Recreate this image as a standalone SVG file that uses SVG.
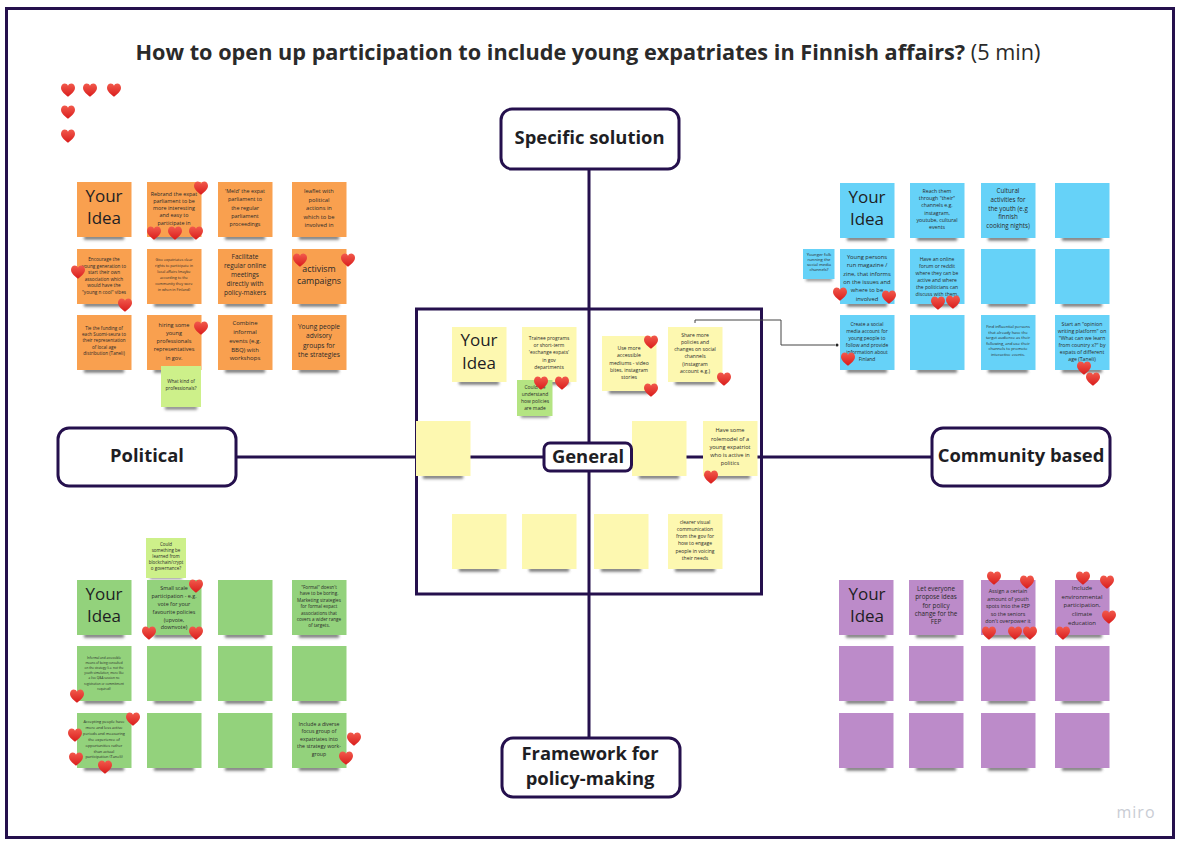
<svg xmlns="http://www.w3.org/2000/svg" xmlns:xlink="http://www.w3.org/1999/xlink" width="1182" height="845" viewBox="0 0 1182 845">
<style>
text{font-family:"Open Sans","Noto Sans","Liberation Sans",sans-serif;fill:#2a2a2a;text-anchor:middle}
.o{fill:#f9a04f}.b{fill:#66d2f8}.y{fill:#fdf8b0}.g{fill:#93d27c}.p{fill:#bc8bc9}.l{fill:#cdf08a}
.box{fill:#fff;stroke:#25104d;stroke-width:3}
.wire{stroke:#25104d;stroke-width:3;fill:none}
.lab{font-weight:700;font-size:18.4px;fill:#1e1e24}
.big{font-size:17px;fill:#1e1e24}
</style>
<defs>
<filter id="bl" x="-30%" y="-200%" width="160%" height="500%"><feGaussianBlur stdDeviation="1.4"/></filter>
<linearGradient id="hg" x1="0" y1="0" x2="0" y2="1"><stop offset="0" stop-color="#f25a4c"/><stop offset="1" stop-color="#d91c1c"/></linearGradient>
<path id="heart" d="M0 6.800C-2.500 4.600-7 1.800-7-2.300C-7-5-5-6.500-3.300-6.500C-1.800-6.500-.6-5.600 0-4.300C.6-5.600 1.800-6.500 3.300-6.500C5-6.500 7-5 7-2.300C7 1.800 2.500 4.600 0 6.800Z" fill="url(#hg)"/>
<rect id="sh" x="7" y="54" width="40" height="3.500" fill="#444" opacity=".8" filter="url(#bl)"/>
<rect id="st" width="54.500" height="55"/>
</defs>
<rect width="1182" height="845" fill="#fff"/>
<rect x="6.500" y="8.500" width="1167" height="829" fill="#fff" stroke="#25104d" stroke-width="3"/>
<text id="title" x="588" y="60" fill="#1e1e24" style="font-size:21.7px"><tspan font-weight="700">How to open up participation to include young expatriates in Finnish affairs?</tspan> (5 min)</text>

<g id="connectors">
<rect x="416.500" y="309" width="345" height="285" fill="none" stroke="#25104d" stroke-width="3"/>
<path class="wire" d="M589 169V738M236 457H932"/>
<path d="M695 323V320H781V345H835" fill="none" stroke="#444" stroke-width="1"/>
<circle cx="837" cy="345" r="1.500" fill="#222"/>
</g>

<g id="node-specific"><rect class="box" x="501" y="109" width="178" height="60" rx="11"/><text class="lab" x="589.500" y="144">Specific solution</text></g>
<g id="node-political"><rect class="box" x="58" y="428" width="178" height="58" rx="11"/><text class="lab" x="147" y="462">Political</text></g>
<g id="node-community"><rect class="box" x="932" y="428" width="178" height="58" rx="11"/><text class="lab" x="1021" y="462">Community based</text></g>
<g id="node-framework"><rect class="box" x="502" y="738" width="178" height="59" rx="11"/><text class="lab" x="590" y="760">Framework for</text><text class="lab" x="590" y="785">policy-making</text></g>

<g id="orange-1" transform="translate(77,182)"><use href="#sh"/><use href="#st" class="o"/><text class="big" x="27" y="20">Your</text><text class="big" x="27" y="42">Idea</text></g>
<g id="orange-2" transform="translate(147,182)"><use href="#sh"/><use href="#st" class="o"/><text style="font-size:5.400px"><tspan x="27" y="14">Rebrand the expat</tspan><tspan x="27" dy="7">parliament to be</tspan><tspan x="27" dy="7">more interesting</tspan><tspan x="27" dy="7">and easy to</tspan><tspan x="27" dy="8">participate in</tspan></text></g>
<g id="orange-3" transform="translate(218,182)"><use href="#sh"/><use href="#st" class="o"/><text style="font-size:5.400px"><tspan x="27" y="11">'Meld' the expat</tspan><tspan x="27" dy="8.300">parliament to</tspan><tspan x="27" dy="8.300">the regular</tspan><tspan x="27" dy="8.300">parliament</tspan><tspan x="27" dy="8.300">proceedings</tspan></text></g>
<g id="orange-4" transform="translate(292,182)"><use href="#sh"/><use href="#st" class="o"/><text style="font-size:5.800px"><tspan x="27" y="11">leaflet with</tspan><tspan x="27" dy="8.500">political</tspan><tspan x="27" dy="8.500">actions in</tspan><tspan x="27" dy="8.500">which to be</tspan><tspan x="27" dy="8.500">involved in</tspan></text></g>
<g id="orange-5" transform="translate(77,249)"><use href="#sh"/><use href="#st" class="o"/><text style="font-size:4.700px"><tspan x="27" y="12">Encourage the</tspan><tspan x="27" dy="6.600">young generation to</tspan><tspan x="27" dy="6.600">start their own</tspan><tspan x="27" dy="6.600">association which</tspan><tspan x="27" dy="6.600">would have the</tspan><tspan x="27" dy="6.600">"young n cool" vibes</tspan></text></g>
<g id="orange-6" transform="translate(147,249)"><use href="#sh"/><use href="#st" class="o"/><text style="font-size:3.700px"><tspan x="27" y="12">Give expatriates clear</tspan><tspan x="27" dy="6">rights to participate in</tspan><tspan x="27" dy="6">local affairs (maybe</tspan><tspan x="27" dy="6">according to the</tspan><tspan x="27" dy="6">community they were</tspan><tspan x="27" dy="6">in when in Finland)</tspan></text></g>
<g id="orange-7" transform="translate(218,249)"><use href="#sh"/><use href="#st" class="o"/><text style="font-size:6.500px"><tspan x="27" y="10">Facilitate</tspan><tspan x="27" dy="9">regular online</tspan><tspan x="27" dy="9">meetings</tspan><tspan x="27" dy="8.500">directly with</tspan><tspan x="27" dy="9">policy-makers</tspan></text></g>
<g id="orange-8" transform="translate(292,249)"><use href="#sh"/><use href="#st" class="o"/><text style="font-size:8.800px"><tspan x="27" y="23">activism</tspan><tspan x="27" dy="12.300">campaigns</tspan></text></g>
<g id="orange-9" transform="translate(77,315)"><use href="#sh"/><use href="#st" class="o"/><text style="font-size:4.600px"><tspan x="27" y="15">Tie the funding of</tspan><tspan x="27" dy="6.200">each Suomi-seura to</tspan><tspan x="27" dy="6.200">their representation</tspan><tspan x="27" dy="6.200">of local age</tspan><tspan x="27" dy="6.200">distribution (Taneli)</tspan></text></g>
<g id="orange-10" transform="translate(147,315)"><use href="#sh"/><use href="#st" class="o"/><text style="font-size:5.600px"><tspan x="27" y="12">hiring some</tspan><tspan x="27" dy="8">young</tspan><tspan x="27" dy="8">professionals</tspan><tspan x="27" dy="8">representatives</tspan><tspan x="27" dy="8.500">in gov.</tspan></text></g>
<g id="orange-11" transform="translate(218,315)"><use href="#sh"/><use href="#st" class="o"/><text style="font-size:6px"><tspan x="27" y="10">Combine</tspan><tspan x="27" dy="9">informal</tspan><tspan x="27" dy="9">events (e.g.</tspan><tspan x="27" dy="8.500">BBQ) with</tspan><tspan x="27" dy="8.500">workshops</tspan></text></g>
<g id="orange-12" transform="translate(292,315)"><use href="#sh"/><use href="#st" class="o"/><text style="font-size:6.600px"><tspan x="27" y="14">Young people</tspan><tspan x="27" dy="9.300">advisory</tspan><tspan x="27" dy="9.300">groups for</tspan><tspan x="27" dy="9.300">the strategies</tspan></text></g>
<g id="lime-1" transform="translate(161,366)"><rect x="4" y="40" width="32" height="3.500" fill="#444" opacity=".7" filter="url(#bl)"/><rect class="l" width="40" height="41"/><text style="font-size:4.700px"><tspan x="20" y="17">What kind of</tspan><tspan x="20" dy="7">professionals?</tspan></text></g>

<g id="blue-1" transform="translate(840,183)"><use href="#sh"/><use href="#st" class="b"/><text class="big" x="27" y="20">Your</text><text class="big" x="27" y="42">Idea</text></g>
<g id="blue-2" transform="translate(910,183)"><use href="#sh"/><use href="#st" class="b"/><text style="font-size:5.200px"><tspan x="27" y="10">Reach them</tspan><tspan x="27" dy="7">through "their"</tspan><tspan x="27" dy="7">channels e.g.</tspan><tspan x="27" dy="8">instagram,</tspan><tspan x="27" dy="7">youtube, cultural</tspan><tspan x="27" dy="7">events</tspan></text></g>
<g id="blue-3" transform="translate(981,183)"><use href="#sh"/><use href="#st" class="b"/><text style="font-size:6.200px"><tspan x="27" y="10">Cultural</tspan><tspan x="27" dy="9">activities for</tspan><tspan x="27" dy="8.500">the youth (e.g</tspan><tspan x="27" dy="8.500">finnish</tspan><tspan x="27" dy="9">cooking nights)</tspan></text></g>
<g id="blue-4" transform="translate(1055,183)"><use href="#sh"/><use href="#st" class="b"/></g>
<g id="blue-small" transform="translate(803,249)"><rect x="3" y="29" width="26" height="3" fill="#444" opacity=".65" filter="url(#bl)"/><rect class="b" width="31.500" height="30"/><text style="font-size:4.200px"><tspan x="16" y="6.500">Younger folk</tspan><tspan x="16" dy="5.300">running the</tspan><tspan x="16" dy="5.300">social media</tspan><tspan x="16" dy="5.300">channels?</tspan></text></g>
<g id="blue-5" transform="translate(840,249)"><use href="#sh"/><use href="#st" class="b"/><text style="font-size:5.800px"><tspan x="27" y="10">Young persons</tspan><tspan x="27" dy="8.300">run magazine /</tspan><tspan x="27" dy="8.300">zine, that informs</tspan><tspan x="27" dy="8.300">on the issues and</tspan><tspan x="27" dy="8.300">where to be</tspan><tspan x="27" dy="8.300">involved</tspan></text></g>
<g id="blue-6" transform="translate(910,249)"><use href="#sh"/><use href="#st" class="b"/><text style="font-size:5px"><tspan x="27" y="12">Have an online</tspan><tspan x="27" dy="7">forum or reddit</tspan><tspan x="27" dy="7">where they can be</tspan><tspan x="27" dy="7">active and where</tspan><tspan x="27" dy="7">the politicians can</tspan><tspan x="27" dy="7">discuss with them.</tspan></text></g>
<g id="blue-7" transform="translate(981,249)"><use href="#sh"/><use href="#st" class="b"/></g>
<g id="blue-8" transform="translate(1055,249)"><use href="#sh"/><use href="#st" class="b"/></g>
<g id="blue-9" transform="translate(840,315)"><use href="#sh"/><use href="#st" class="b"/><text style="font-size:4.900px"><tspan x="27" y="11">Create a social</tspan><tspan x="27" dy="7">media account for</tspan><tspan x="27" dy="7">young people to</tspan><tspan x="27" dy="7">follow and provide</tspan><tspan x="27" dy="7">information about</tspan><tspan x="27" dy="7">Finland</tspan></text></g>
<g id="blue-10" transform="translate(910,315)"><use href="#sh"/><use href="#st" class="b"/></g>
<g id="blue-11" transform="translate(981,315)"><use href="#sh"/><use href="#st" class="b"/><text style="font-size:4px"><tspan x="27" y="13">Find influential persons</tspan><tspan x="27" dy="5.600">that already have the</tspan><tspan x="27" dy="5.600">target audience as their</tspan><tspan x="27" dy="5.600">following, and use their</tspan><tspan x="27" dy="5.600">channels to promote</tspan><tspan x="27" dy="5.600">interactive events.</tspan></text></g>
<g id="blue-12" transform="translate(1055,315)"><use href="#sh"/><use href="#st" class="b"/><text style="font-size:5.200px"><tspan x="27" y="11">Start an "opinion</tspan><tspan x="27" dy="7">writing platform" on</tspan><tspan x="27" dy="7">"What can we learn</tspan><tspan x="27" dy="7">from country x?" by</tspan><tspan x="27" dy="7">expats of different</tspan><tspan x="27" dy="7">age (Taneli)</tspan></text></g>

<g id="yellow-1" transform="translate(452,327)"><use href="#sh"/><use href="#st" class="y"/><text class="big" x="27" y="19">Your</text><text class="big" x="27" y="42">Idea</text></g>
<g id="yellow-2" transform="translate(522,327)"><use href="#sh"/><use href="#st" class="y"/><text style="font-size:4.900px"><tspan x="27" y="13">Trainee programs</tspan><tspan x="27" dy="7.200">or short-term</tspan><tspan x="27" dy="7.200">'exchange expats'</tspan><tspan x="27" dy="7.200">in gov</tspan><tspan x="27" dy="7.200">departments</tspan></text></g>
<g id="yellow-3" transform="translate(602,336)"><use href="#sh"/><use href="#st" class="y"/><text style="font-size:5.100px"><tspan x="27" y="14">Use more</tspan><tspan x="27" dy="7.300">accessible</tspan><tspan x="27" dy="7.300">mediums - video</tspan><tspan x="27" dy="7.300">bites, instagram</tspan><tspan x="27" dy="7.300">stories</tspan></text></g>
<g id="yellow-4" transform="translate(668,327)"><use href="#sh"/><use href="#st" class="y"/><text style="font-size:5.100px"><tspan x="27" y="10">Share more</tspan><tspan x="27" dy="7">policies and</tspan><tspan x="27" dy="7">changes on social</tspan><tspan x="27" dy="7">channels</tspan><tspan x="27" dy="8">(instagram</tspan><tspan x="27" dy="7">account e.g.)</tspan></text></g>
<g id="yellow-5" transform="translate(416,421)"><use href="#sh"/><use href="#st" class="y"/></g>
<g id="yellow-6" transform="translate(632,421)"><use href="#sh"/><use href="#st" class="y"/></g>
<g id="yellow-7" transform="translate(703,421)"><use href="#sh"/><use href="#st" class="y"/><text style="font-size:5.600px"><tspan x="27" y="11">Have some</tspan><tspan x="27" dy="8.500">rolemodel of a</tspan><tspan x="27" dy="8">young expatriot</tspan><tspan x="27" dy="8">who is active in</tspan><tspan x="27" dy="8">politics</tspan></text></g>
<g id="yellow-8" transform="translate(452,514)"><use href="#sh"/><use href="#st" class="y"/></g>
<g id="yellow-9" transform="translate(522,514)"><use href="#sh"/><use href="#st" class="y"/></g>
<g id="yellow-10" transform="translate(594,514)"><use href="#sh"/><use href="#st" class="y"/></g>
<g id="yellow-11" transform="translate(668,514)"><use href="#sh"/><use href="#st" class="y"/><text style="font-size:5px"><tspan x="27" y="10">clearer visual</tspan><tspan x="27" dy="7.200">communication</tspan><tspan x="27" dy="7">from the gov for</tspan><tspan x="27" dy="7">how to engage</tspan><tspan x="27" dy="7.400">people in voicing</tspan><tspan x="27" dy="7">their needs</tspan></text></g>
<g id="lime-2" transform="translate(517,380)"><rect x="4" y="34" width="28" height="3.500" fill="#444" opacity=".7" filter="url(#bl)"/><rect width="35.500" height="36" fill="#b4e482"/><text style="font-size:4.900px"><tspan x="18" y="8.500">Could we</tspan><tspan x="18" dy="7">understand</tspan><tspan x="18" dy="7">how policies</tspan><tspan x="18" dy="7">are made</tspan></text></g>

<g id="node-general"><rect class="box" x="544" y="443" width="87.500" height="28" rx="6"/><text class="lab" x="588" y="463">General</text></g>

<g id="lime-3" transform="translate(146,538)"><rect x="4" y="38" width="32" height="3" fill="#444" opacity=".65" filter="url(#bl)"/><rect class="l" width="40" height="40"/><text style="font-size:4.500px"><tspan x="20" y="8">Could</tspan><tspan x="20" dy="6">something be</tspan><tspan x="20" dy="6">learned from</tspan><tspan x="20" dy="6">blockchain/crypt</tspan><tspan x="20" dy="6">o governance?</tspan></text></g>
<g id="green-1" transform="translate(77,580)"><use href="#sh"/><use href="#st" class="g"/><text class="big" x="27" y="20">Your</text><text class="big" x="27" y="42">Idea</text></g>
<g id="green-2" transform="translate(147,580)"><use href="#sh"/><use href="#st" class="g"/><text style="font-size:5.400px"><tspan x="27" y="10">Small scale</tspan><tspan x="27" dy="8">participation - e.g.</tspan><tspan x="27" dy="8">vote for your</tspan><tspan x="27" dy="8">favourite policies</tspan><tspan x="27" dy="7.500">(upvote,</tspan><tspan x="27" dy="7.500">downvote)</tspan></text></g>
<g id="green-3" transform="translate(218,580)"><use href="#sh"/><use href="#st" class="g"/></g>
<g id="green-4" transform="translate(292,580)"><use href="#sh"/><use href="#st" class="g"/><text style="font-size:4.600px"><tspan x="27" y="9">"Formal" doesn't</tspan><tspan x="27" dy="6.400">have to be boring.</tspan><tspan x="27" dy="6.400">Marketing strategies</tspan><tspan x="27" dy="6.400">for formal expact</tspan><tspan x="27" dy="6.400">associations that</tspan><tspan x="27" dy="6.400">covers a wider range</tspan><tspan x="27" dy="6.400">of targets.</tspan></text></g>
<g id="green-5" transform="translate(77,646)"><use href="#sh"/><use href="#st" class="g"/><text style="font-size:3.100px"><tspan x="27" y="13">Informal and accessible</tspan><tspan x="27" dy="5.100">means of being consulted</tspan><tspan x="27" dy="5.100">on the strategy (i.e. not the</tspan><tspan x="27" dy="5.100">youth simulation, more like</tspan><tspan x="27" dy="5.100">a live Q&amp;A session no</tspan><tspan x="27" dy="5.100">registration or commitment</tspan><tspan x="27" dy="5.100">required)</tspan></text></g>
<g id="green-6" transform="translate(147,646)"><use href="#sh"/><use href="#st" class="g"/></g>
<g id="green-7" transform="translate(218,646)"><use href="#sh"/><use href="#st" class="g"/></g>
<g id="green-8" transform="translate(292,646)"><use href="#sh"/><use href="#st" class="g"/></g>
<g id="green-9" transform="translate(77,713)"><use href="#sh"/><use href="#st" class="g"/><text style="font-size:3.900px"><tspan x="27" y="10">Accepting people have</tspan><tspan x="27" dy="5.900">more and less active</tspan><tspan x="27" dy="5.900">periods and measuring</tspan><tspan x="27" dy="5.900">the experience of</tspan><tspan x="27" dy="5.900">opportunities rather</tspan><tspan x="27" dy="5.900">than actual</tspan><tspan x="27" dy="5.900">participation (Taneli)</tspan></text></g>
<g id="green-10" transform="translate(147,713)"><use href="#sh"/><use href="#st" class="g"/></g>
<g id="green-11" transform="translate(218,713)"><use href="#sh"/><use href="#st" class="g"/></g>
<g id="green-12" transform="translate(292,713)"><use href="#sh"/><use href="#st" class="g"/><text style="font-size:5.200px"><tspan x="27" y="13">Include a diverse</tspan><tspan x="27" dy="7.400">focus group of</tspan><tspan x="27" dy="7.400">expatriates into</tspan><tspan x="27" dy="7.400">the strategy work-</tspan><tspan x="27" dy="7.400">group</tspan></text></g>

<g id="purple-1" transform="translate(839,580)"><use href="#sh"/><use href="#st" class="p"/><text class="big" x="28" y="20">Your</text><text class="big" x="28" y="42">Idea</text></g>
<g id="purple-2" transform="translate(909,580)"><use href="#sh"/><use href="#st" class="p"/><text style="font-size:6.300px"><tspan x="27" y="11">Let everyone</tspan><tspan x="27" dy="8.300">propose ideas</tspan><tspan x="27" dy="8.300">for policy</tspan><tspan x="27" dy="8.300">change for the</tspan><tspan x="27" dy="8.300">FEP</tspan></text></g>
<g id="purple-3" transform="translate(981,580)"><use href="#sh"/><use href="#st" class="p"/><text style="font-size:5.300px"><tspan x="27" y="13">Assign a certain</tspan><tspan x="27" dy="7.500">amount of youth</tspan><tspan x="27" dy="7.500">spots into the FEP</tspan><tspan x="27" dy="7.500">so the seniors</tspan><tspan x="27" dy="7.500">don't overpower it</tspan></text></g>
<g id="purple-4" transform="translate(1055,580)"><use href="#sh"/><use href="#st" class="p"/><text style="font-size:6px"><tspan x="27" y="10">Include</tspan><tspan x="27" dy="9">environmental</tspan><tspan x="27" dy="8.200">participation,</tspan><tspan x="27" dy="8.800">climate</tspan><tspan x="27" dy="8.800">education</tspan></text></g>
<g id="purple-5" transform="translate(839,646)"><use href="#sh"/><use href="#st" class="p"/></g>
<g id="purple-6" transform="translate(909,646)"><use href="#sh"/><use href="#st" class="p"/></g>
<g id="purple-7" transform="translate(981,646)"><use href="#sh"/><use href="#st" class="p"/></g>
<g id="purple-8" transform="translate(1055,646)"><use href="#sh"/><use href="#st" class="p"/></g>
<g id="purple-9" transform="translate(839,713)"><use href="#sh"/><use href="#st" class="p"/></g>
<g id="purple-10" transform="translate(909,713)"><use href="#sh"/><use href="#st" class="p"/></g>
<g id="purple-11" transform="translate(981,713)"><use href="#sh"/><use href="#st" class="p"/></g>
<g id="purple-12" transform="translate(1055,713)"><use href="#sh"/><use href="#st" class="p"/></g>

<g id="hearts">
<use href="#heart" x="68" y="90"/><use href="#heart" x="90" y="90"/><use href="#heart" x="114" y="90"/><use href="#heart" x="68" y="112"/><use href="#heart" x="68" y="136"/>
<use href="#heart" x="201" y="188"/><use href="#heart" x="154" y="233"/><use href="#heart" x="175" y="233"/><use href="#heart" x="196" y="233"/><use href="#heart" x="78" y="272"/><use href="#heart" x="125" y="305"/><use href="#heart" x="201" y="328"/><use href="#heart" x="300" y="260"/><use href="#heart" x="348" y="260"/>
<use href="#heart" x="840" y="294"/><use href="#heart" x="889" y="297"/><use href="#heart" x="938" y="303"/><use href="#heart" x="953" y="302"/><use href="#heart" x="848" y="359"/><use href="#heart" x="1084" y="368"/><use href="#heart" x="1093" y="379"/>
<use href="#heart" x="541" y="383"/><use href="#heart" x="562" y="383"/><use href="#heart" x="651" y="342"/><use href="#heart" x="651" y="390"/><use href="#heart" x="724" y="379"/><use href="#heart" x="711" y="477"/>
<use href="#heart" x="196" y="586"/><use href="#heart" x="149" y="633"/><use href="#heart" x="196" y="633"/><use href="#heart" x="77" y="696"/><use href="#heart" x="133" y="719"/><use href="#heart" x="75" y="735"/><use href="#heart" x="76" y="759"/><use href="#heart" x="105" y="767"/><use href="#heart" x="354" y="739"/><use href="#heart" x="346" y="758"/>
<use href="#heart" x="994" y="578"/><use href="#heart" x="1027" y="582"/><use href="#heart" x="989" y="633"/><use href="#heart" x="1015" y="633"/><use href="#heart" x="1030" y="633"/><use href="#heart" x="1083" y="578"/><use href="#heart" x="1107" y="582"/><use href="#heart" x="1109" y="617"/><use href="#heart" x="1063" y="633"/>
</g>
<text id="logo" x="1136" y="818" style="font-size:16px;fill:#c9ccd4;letter-spacing:1px;font-weight:500">miro</text>
</svg>
